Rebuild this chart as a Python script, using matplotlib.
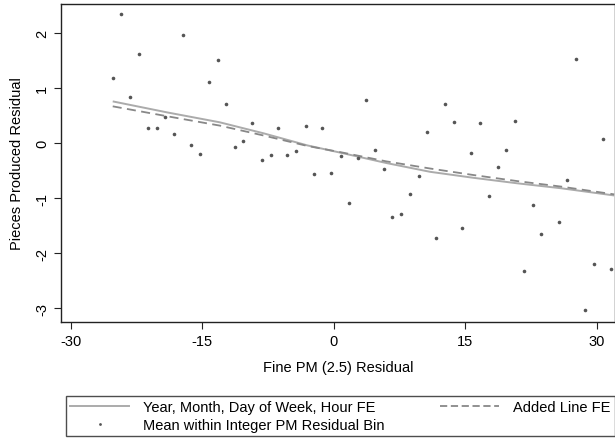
import numpy as np
import matplotlib
matplotlib.use("Agg")
import matplotlib.pyplot as plt
from matplotlib.lines import Line2D

# binned means (x = mean PM residual within the integer bin)
bin_x = [-25.2, -24.2, -23.2, -22.2, -21.2, -20.2, -19.2, -18.2, -17.2, -16.3,
         -15.2, -14.2, -13.2, -12.3, -11.3, -10.3, -9.3, -8.2, -7.2, -6.3,
         -5.3, -4.3, -3.2, -2.2, -1.3, -0.3, 0.8, 1.8, 2.75, 3.7,
         4.7, 5.7, 6.7, 7.7, 8.7, 9.7, 10.7, 11.7, 12.7, 13.7,
         14.7, 15.7, 16.7, 17.7, 18.7, 19.7, 20.7, 21.7, 22.7, 23.7,
         25.7, 26.6, 27.7, 28.7, 29.7, 30.7, 31.7]
bin_y = [1.18, 2.34, 0.84, 1.62, 0.27, 0.27, 0.48, 0.17, 1.96, -0.04,
         -0.19, 1.11, 1.51, 0.71, -0.07, 0.04, 0.36, -0.31, -0.21, 0.27,
         -0.22, -0.15, 0.32, -0.56, 0.28, -0.54, -0.23, -1.09, -0.27, 0.78,
         -0.13, -0.46, -1.34, -1.28, -0.92, -0.59, 0.21, -1.72, 0.72, 0.38,
         -1.55, -0.17, 0.37, -0.96, -0.43, -0.12, 0.41, -2.32, -1.12, -1.65,
         -1.43, -0.67, 1.53, -3.04, -2.19, 0.07, -2.29]

# smoothed fits
fit_x = [-25.2, -19, -13, -8, -3, 1, 6, 11, 16, 21, 26, 32]
fit_fe = [0.76, 0.56, 0.38, 0.18, -0.04, -0.18, -0.36, -0.52, -0.63, -0.73, -0.82, -0.95]
fit_line = [0.67, 0.49, 0.32, 0.14, -0.05, -0.17, -0.33, -0.46, -0.58, -0.69, -0.79, -0.93]

xticks = [-30, -15, 0, 15, 30]
yticks = [-3, -2, -1, 0, 1, 2]

plt.rcParams['font.family'] = ['Liberation Sans', 'DejaVu Sans']
plt.rcParams['font.size'] = 10.5
plt.rcParams['axes.unicode_minus'] = False

fig = plt.figure(figsize=(6.15, 4.39), dpi=100)
ax = fig.add_axes([61 / 615, 116 / 439, 554 / 615, 318 / 439])

ax.plot(fit_x, fit_fe, color='#ababab', lw=1.4, solid_capstyle='butt')
ax.plot(fit_x, fit_line, color='#888888', lw=1.3, dashes=(5, 3))
ax.plot(bin_x, bin_y, ls='none', marker='o', ms=2.6, color='#555555', mec='none')

ax.set_xlim(-31.1, 32.1)
ax.set_ylim(-3.25, 2.53)
ax.set_xticks(xticks)
ax.set_yticks(yticks)
ax.set_yticklabels([str(v) for v in yticks], rotation=90, va='center')
ax.tick_params(direction='out', length=5, width=0.8, color='#222222')
for s in ax.spines.values():
    s.set_linewidth(1.0)
    s.set_color('#222222')
ax.set_xlabel('Fine PM (2.5) Residual', labelpad=9)
ax.set_ylabel('Pieces Produced Residual', labelpad=8)

handles = [
    Line2D([], [], color='#ababab', lw=1.4),
    Line2D([], [], ls='none', marker='o', ms=2.0, color='#555555', mec='none'),
    Line2D([], [], color='#888888', lw=1.3, dashes=(4, 2)),
]
labels = ['Year, Month, Day of Week, Hour FE',
          'Mean within Integer PM Residual Bin',
          'Added Line FE']
leg = fig.legend(handles, labels, ncol=2, loc='lower left',
                 bbox_to_anchor=(66 / 615, 2 / 439, 549 / 615, 42 / 439),
                 mode='expand', frameon=True, fancybox=False,
                 handlelength=4.0, handletextpad=1.0, borderpad=0.3,
                 labelspacing=0.25, borderaxespad=0, fontsize=10.5)
leg.get_frame().set_edgecolor('#222222')
leg.get_frame().set_linewidth(1.0)

fig.savefig('out.png', dpi=100)
